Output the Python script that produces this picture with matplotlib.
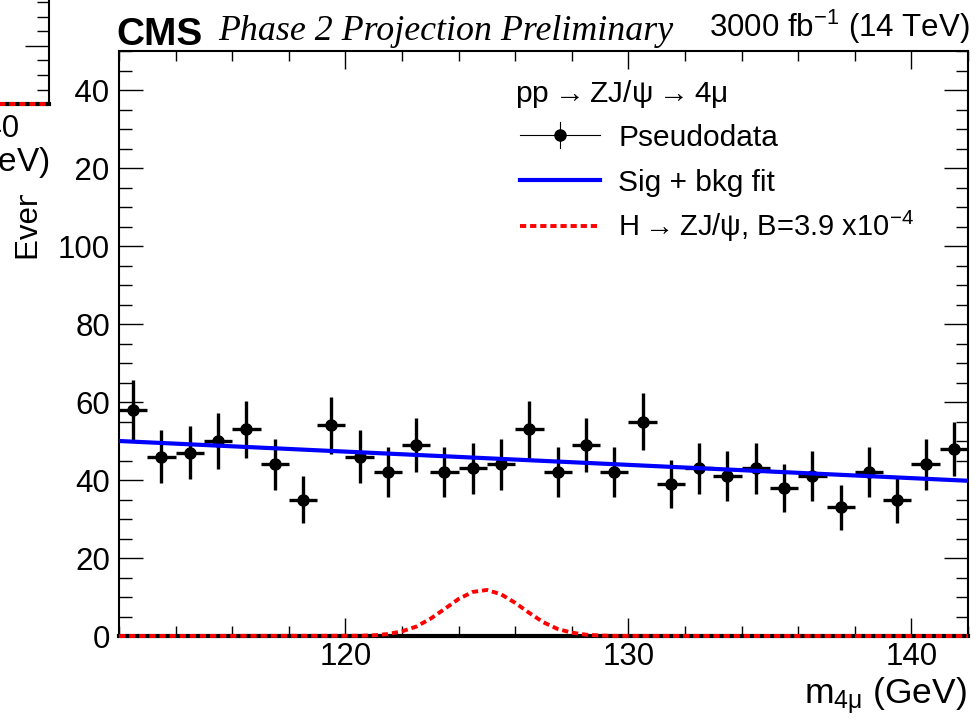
import numpy as np
import matplotlib
matplotlib.use("Agg")
import matplotlib.pyplot as plt
from matplotlib.patches import Rectangle
from matplotlib.lines import Line2D
from matplotlib.ticker import MultipleLocator

plt.rcParams['font.family'] = ['Liberation Sans', 'DejaVu Sans']
plt.rcParams['mathtext.default'] = 'regular'

# ---------------- data ----------------
bin_centers = [112.5, 113.5, 114.5, 115.5, 116.5, 117.5, 118.5, 119.5, 120.5, 121.5,
               122.5, 123.5, 124.5, 125.5, 126.5, 127.5, 128.5, 129.5, 130.5, 131.5,
               132.5, 133.5, 134.5, 135.5, 136.5, 137.5, 138.5, 139.5, 140.5, 141.5]
counts = [58, 46, 47, 50, 53, 44, 35, 54, 46, 42,
          49, 42, 43, 44, 53, 42, 49, 42, 55, 39,
          43, 41, 43, 38, 41, 33, 42, 35, 44, 48]
fit_x = [112, 142]
fit_y = [50.0, 39.8]
sig_x = [112, 120.5, 121, 121.5, 122, 122.5, 123, 123.5, 124, 124.5, 125, 125.5,
         126, 126.5, 127, 127.5, 128, 128.5, 129, 129.5, 142]
sig_y = [0, 0.06, 0.18, 0.5, 1.2, 2.4, 4.4, 6.9, 9.5, 11.3, 11.8, 10.7,
         8.5, 5.9, 3.5, 1.8, 0.85, 0.34, 0.12, 0.03, 0]
xticks_major = [120, 130, 140]
yticks_major = [0, 20, 40, 60, 80, 100, 120, 140]

W, H = 980, 721
fig = plt.figure(figsize=(W / 100, H / 100), dpi=100)

def fx(x):
    return x / W

def fy(y):
    return 1 - y / H

ARROW = r'$\rightarrow$'
DASH = (0, (1.6, 1.0))

# main axes (pixel frame 119..968, 51..636)
ax = fig.add_axes([fx(119), fy(636), (968 - 119) / W, (636 - 51) / H])
ax.set_xlim(112, 142)
ax.set_ylim(0, 150)

yerr = np.sqrt(np.array(counts, dtype=float))
ax.errorbar(bin_centers, counts, yerr=yerr, xerr=0.5, fmt='o', color='black',
            ms=8, elinewidth=2.4, capsize=0, zorder=3)
ax.plot(fit_x, fit_y, color='#0000ff', lw=3.0, zorder=4)
ax.plot(sig_x, sig_y, color='#ff0000', lw=2.8, linestyle=DASH,
        zorder=5, clip_on=False)

ax.set_xticks(xticks_major)
ax.set_yticks(yticks_major)
ax.xaxis.set_minor_locator(MultipleLocator(2))
ax.yaxis.set_minor_locator(MultipleLocator(5))
ax.tick_params(axis='both', which='both', direction='in', top=True, right=True,
               width=1.0, colors='black', labelsize=22.5)
ax.tick_params(axis='y', which='major', length=17, pad=6.5)
ax.tick_params(axis='y', which='minor', length=9)
ax.tick_params(axis='x', which='major', length=13, pad=4)
ax.tick_params(axis='x', which='minor', length=7)
for s in ax.spines.values():
    s.set_linewidth(1.5)
ax.spines['bottom'].set_linewidth(3.0)

# y label (partly hidden by neighbouring pad)
fig.text(fx(30), fy(50), 'Events / 1 GeV', rotation=90, ha='center', va='top',
         fontsize=22.5, zorder=0.5)
# x label
fig.text(fx(967), fy(703), 'm$_{4μ}$ (GeV)', ha='right',
         va='baseline', fontsize=25.5)

# header texts
fig.text(fx(116), fy(45), 'CMS', ha='left', va='baseline', fontsize=28,
         fontweight='bold')
fig.text(fx(218), fy(40), 'Phase 2 Projection Preliminary', ha='left', va='baseline',
         fontsize=25.8, family='Liberation Serif', style='italic')
fig.text(fx(970), fy(37), r'3000 fb$^{-1}$ (14 TeV)', ha='right', va='baseline',
         fontsize=22.5)

# legend (drawn manually)
fig.text(fx(515), fy(102), 'pp' + ARROW + 'ZJ/ψ' + ARROW + '4μ', ha='left',
         va='baseline', fontsize=21.5)
leg_lines = [
    Line2D([fx(520), fx(600)], [fy(135), fy(135)], color='black', lw=0.8),
    Line2D([fx(560), fx(560)], [fy(122), fy(148)], color='black', lw=0.8),
    Line2D([fx(560)], [fy(135)], color='black', marker='o', ms=8, lw=0),
    Line2D([fx(520), fx(600)], [fy(180), fy(180)], color='#0000ff', lw=3.0),
    Line2D([fx(520), fx(600)], [fy(226), fy(226)], color='#ff0000', lw=2.8,
           linestyle=DASH),
]
for ln in leg_lines:
    ln.set_transform(fig.transFigure)
    fig.add_artist(ln)
fig.text(fx(618), fy(146), 'Pseudodata', ha='left', va='baseline', fontsize=21.5)
fig.text(fx(618), fy(191), 'Sig + bkg fit', ha='left', va='baseline', fontsize=21.5)
fig.text(fx(618), fy(236), 'H' + ARROW + 'ZJ/ψ, B=3.9 x10$^{-4}$', ha='left',
         va='baseline', fontsize=21)

# neighbouring pad fragment (upper left corner)
cover = Rectangle((0, fy(195)), fx(75), 1 - fy(195), transform=fig.transFigure,
                  facecolor='white', edgecolor='none', zorder=1)
fig.add_artist(cover)

ax2 = fig.add_axes([-0.3, fy(104), fx(49) + 0.3, 0.3], zorder=2)
ax2.set_xlim(0, 1)
ax2.set_ylim(0, 0.3 * H * 20 / 58)
ax2.set_facecolor('white')
ax2.yaxis.tick_right()
ax2.set_yticks([0, 20, 40, 60])
ax2.yaxis.set_minor_locator(MultipleLocator(5))
ax2.tick_params(axis='y', which='both', direction='in', labelright=False, width=1.0)
ax2.tick_params(axis='y', which='major', length=17)
ax2.tick_params(axis='y', which='minor', length=9)
ax2.set_xticks([])
ax2.spines['top'].set_visible(False)
ax2.spines['left'].set_visible(False)
ax2.spines['right'].set_linewidth(1.5)
ax2.spines['bottom'].set_linewidth(3.0)
ax2.axhline(0, color='#ff0000', lw=2.8, linestyle=DASH, clip_on=False, zorder=5)

fig.text(fx(20), fy(137), '140', ha='right', va='baseline', fontsize=22.5, zorder=3)
fig.text(fx(50), fy(173), 'm$_{4μ}$ (GeV)', ha='right', va='baseline', fontsize=24,
         zorder=3)

fig.savefig('out.png', dpi=100)
